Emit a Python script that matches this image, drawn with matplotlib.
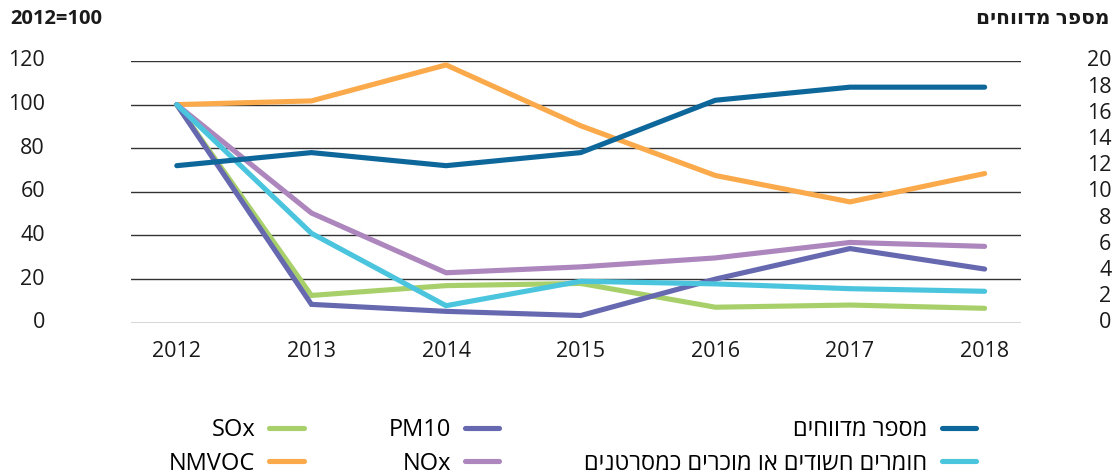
import matplotlib
matplotlib.use("Agg")
import matplotlib.pyplot as plt

plt.rcParams['font.family'] = ['Open Sans', 'DejaVu Sans']


def heb(s):
    # matplotlib has no bidi support, so flip Hebrew strings by hand
    return s[::-1]


# data
years = ["2012", "2013", "2014", "2015", "2016", "2017", "2018"]
reports = [12, 13, 12, 13, 17, 18, 18]           # right axis
chemicals = [100, 41, 7.8, 19, 17.8, 15.6, 14.4]  # 2012=100
pm10 = [100, 8.4, 5.2, 3.3, 20, 34, 24.6]
nox = [100, 50.3, 22.9, 25.6, 29.7, 36.8, 35]
sox = [100, 12.5, 17, 18, 7.1, 8.1, 6.6]
nmvoc = [100, 101.7, 118.2, 90.3, 67.5, 55.4, 68.4]

left_ticks = [0, 20, 40, 60, 80, 100, 120]
right_ticks = [0, 2, 4, 6, 8, 10, 12, 14, 16, 18, 20]

label_reports = "מספר מדווחים"
label_chem = "חומרים חשודים או מוכרים כמסרטנים"

c_reports = "#0e679a"
c_chem = "#4bc5de"
c_pm10 = "#6668b0"
c_nox = "#ac86bc"
c_sox = "#a8d06a"
c_nmvoc = "#fbaa4b"

fig = plt.figure(figsize=(11.15, 4.75), dpi=100)
ax = fig.add_axes([131 / 1115, 1 - 322.7 / 475, 890 / 1115, 261.7 / 475])
ax2 = ax.twinx()

x = range(len(years))
lw = 3.7
kw = dict(linewidth=lw, solid_capstyle='round', solid_joinstyle='miter')
l_nmvoc, = ax.plot(x, nmvoc, color=c_nmvoc, zorder=2, **kw)
l_sox, = ax.plot(x, sox, color=c_sox, zorder=3, **kw)
l_nox, = ax.plot(x, nox, color=c_nox, zorder=4, **kw)
l_pm10, = ax.plot(x, pm10, color=c_pm10, zorder=5, **kw)
l_chem, = ax.plot(x, chemicals, color=c_chem, zorder=6, **kw)
l_rep, = ax2.plot(x, reports, color=c_reports, zorder=7, **kw)

ax.set_xlim(-0.34, 6.27)
ax.set_ylim(0, 120)
ax2.set_ylim(0, 20)
ax.set_yticks(left_ticks)
ax2.set_yticks(right_ticks)
ax.set_xticks(list(x))
ax.set_xticklabels(years)
ax.grid(axis='y', color='#333333', linewidth=1)
ax.set_axisbelow(True)

for a in (ax, ax2):
    for sp in a.spines.values():
        sp.set_visible(False)

ax.tick_params(axis='x', length=0, pad=13, labelsize=15.5, labelcolor='#1a1a1a')
ax.tick_params(axis='y', length=0, pad=62, labelsize=15.5, labelcolor='#1a1a1a')
ax2.tick_params(axis='y', length=0, pad=65, labelsize=15.5, labelcolor='#1a1a1a')
for t in ax.get_yticklabels() + ax2.get_yticklabels():
    t.set_horizontalalignment('right')
    t.set_verticalalignment('center')

fig.text(10 / 1115, 1 - 19 / 475, "2012=100", fontsize=14.5, fontweight='bold',
         ha='left', va='center', color='#1a1a1a')
fig.text(1110 / 1115, 1 - 19 / 475, heb(label_reports), fontsize=14.5, fontweight='bold',
         ha='right', va='center', color='#1a1a1a')

handles = [l_sox, l_nmvoc, l_pm10, l_nox, l_rep, l_chem]
labels = ["SOx", "NMVOC", "PM10", "NOx", heb(label_reports), heb(label_chem)]
fig.legend(handles, labels, ncol=3, markerfirst=False, frameon=False,
           loc='center right', bbox_to_anchor=(976 / 1115, 1 - 447 / 475),
           borderpad=0, borderaxespad=0, fontsize=17, handlelength=1.45,
           handletextpad=0.6, labelspacing=0.4, columnspacing=3.6)

fig.savefig("out.png", dpi=100)
